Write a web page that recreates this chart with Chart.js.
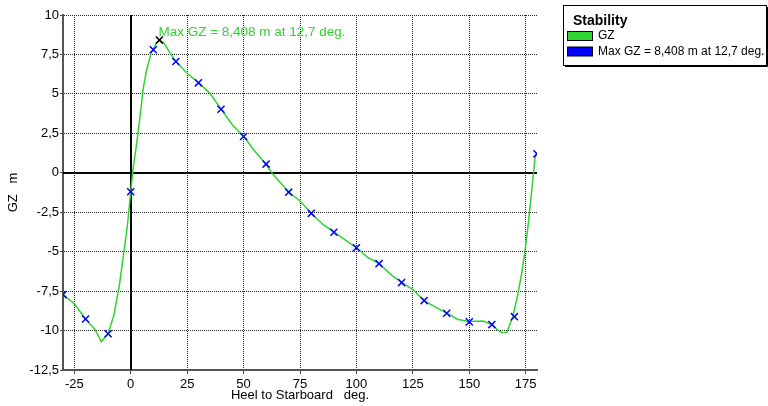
<!DOCTYPE html>
<html>
<head>
<meta charset="utf-8">
<script src="https://cdn.jsdelivr.net/npm/chart.js@4/dist/chart.umd.min.js"></script>
<style>
  html, body { margin: 0; padding: 0; background: #fff; }
  #wrap { width: 768px; height: 406px; position: relative; }
</style>
</head>
<body>
<div id="wrap"><canvas id="c"></canvas></div>
<script>
// ---- data ----
const gzDeg = [-30,-25,-20,-16,-13,-10,-7.5,-5,-3,-1.5,0,1,2.5,4,5.5,7,9,10,11.5,12.7,14.7,17.5,20,25,30,35,40,45,50,55,60,63,70,75,80,85,90,95,100,105,110,115,120,125,130,135,140,145,150,156,160,162,164.5,166.7,169.3,171.4,173.3,174.8,176.2,177.7,179.2,180];
const gzValue = [-7.72,-8.3,-9.27,-9.9,-10.7,-10.2,-9.05,-7.1,-5.0,-3.4,-1.2,0.2,1.7,3.4,5.3,6.5,7.55,7.85,8.25,8.408,8.24,7.57,7.05,6.31,5.72,5.05,4.04,3.05,2.31,1.36,0.52,-0.1,-1.22,-1.79,-2.57,-3.26,-3.75,-4.25,-4.75,-5.36,-5.74,-6.42,-6.94,-7.4,-8.1,-8.52,-8.9,-9.3,-9.43,-9.4,-9.6,-9.89,-10.14,-10.1,-9.11,-7.78,-6.31,-4.84,-3.15,-1.05,1.05,1.2];
const markerDeg = [-30,-20,-10,0,10,20,30,40,50,60,70,80,90,100,110,120,130,140,150,160,170,180];
const markerValue = [-7.72,-9.27,-10.2,-1.2,7.8,7.05,5.7,4.03,2.3,0.55,-1.23,-2.57,-3.77,-4.75,-5.76,-6.96,-8.1,-8.9,-9.45,-9.62,-9.12,1.2];
const maxDeg = 12.7;
const maxValue = 8.408;
const gzLabel = 'GZ';
const maxLabel = 'Max GZ = 8,408 m at 12,7 deg.';
const legendTitle = 'Stability';
const xTitle = 'Heel to Starboard   deg.';
const yTitle = 'GZ   m';
const xMin = -30, xMax = 180, xStep = 25;
const yMin = -12.5, yMax = 10, yStep = 2.5;

const GREEN = '#2fd42f';
const BLUE = '#0000ff';
const FONT = "'Liberation Sans', Arial, sans-serif";

const toPts = (xs, ys) => xs.map((x, i) => ({ x: x, y: ys[i] }));
const fmt = v => String(v).replace('.', ',');

// zero lines
const zeroLines = {
  id: 'zeroLines',
  beforeDatasetsDraw(chart) {
    const { ctx, chartArea: a, scales: { x, y } } = chart;
    ctx.save();
    ctx.strokeStyle = '#000';
    ctx.lineWidth = 2;
    ctx.beginPath();
    const px = Math.round(x.getPixelForValue(0));
    const py = Math.round(y.getPixelForValue(0));
    ctx.moveTo(px, a.top); ctx.lineTo(px, a.bottom);
    ctx.moveTo(a.left, py); ctx.lineTo(a.right, py);
    ctx.stroke();
    ctx.restore();
  }
};

// max annotation
const maxNote = {
  id: 'maxNote',
  afterDatasetsDraw(chart) {
    const { ctx, scales: { x, y } } = chart;
    ctx.save();
    ctx.font = '13.5px ' + FONT;
    ctx.fillStyle = GREEN;
    ctx.textAlign = 'left';
    ctx.textBaseline = 'middle';
    ctx.fillText(maxLabel, x.getPixelForValue(maxDeg) - 1, y.getPixelForValue(maxValue) - 8);
    ctx.restore();
  }
};

// boxed legend
const boxLegend = {
  id: 'boxLegend',
  afterDraw(chart) {
    const { ctx } = chart;
    const L = 563, T = 5, W = 203, H = 60;
    ctx.save();
    ctx.fillStyle = '#fff';
    ctx.fillRect(L, T, W, H);
    ctx.strokeStyle = '#000';
    ctx.lineWidth = 1;
    ctx.strokeRect(L + 0.5, T + 0.5, W, H);
    ctx.beginPath();
    ctx.moveTo(L + W + 1.5, T + 2); ctx.lineTo(L + W + 1.5, T + H + 1.5); ctx.lineTo(L + 2, T + H + 1.5);
    ctx.stroke();
    ctx.fillStyle = '#000';
    ctx.textBaseline = 'middle';
    ctx.textAlign = 'left';
    ctx.font = 'bold 14px ' + FONT;
    ctx.fillText(legendTitle, 573, 21);
    const items = [[chart.data.datasets[0].label, GREEN, 36], [chart.data.datasets[1].label, BLUE, 51.5]];
    ctx.font = '12px ' + FONT;
    items.forEach(([t, c, yy]) => {
      ctx.fillStyle = c;
      ctx.fillRect(567, yy - 4.5, 25, 9);
      ctx.strokeStyle = '#000';
      ctx.strokeRect(567.5, yy - 4.5, 25, 9);
      ctx.fillStyle = '#000';
      ctx.fillText(t, 598, yy);
    });
    ctx.restore();
  }
};

new Chart(document.getElementById('c'), {
  type: 'scatter',
  data: {
    datasets: [
      {
        label: gzLabel,
        data: toPts(gzDeg, gzValue),
        showLine: true,
        borderColor: GREEN,
        borderWidth: 1.5,
        pointRadius: 0,
        fill: false,
        tension: 0,
        order: 3
      },
      {
        label: maxLabel,
        data: toPts(markerDeg, markerValue),
        showLine: false,
        pointStyle: 'crossRot',
        pointRadius: 5,
        borderColor: BLUE,
        backgroundColor: BLUE,
        pointBorderWidth: 1.5,
        order: 2
      },
      {
        label: 'max',
        data: [{ x: maxDeg, y: maxValue }],
        showLine: false,
        pointStyle: 'crossRot',
        pointRadius: 5,
        borderColor: '#000',
        backgroundColor: '#000',
        pointBorderWidth: 1.5,
        order: 1
      }
    ]
  },
  options: {
    responsive: true,
    maintainAspectRatio: false,
    animation: false,
    events: [],
    layout: { padding: { top: 15, right: 231, left: 0, bottom: 0 } },
    plugins: { legend: { display: false }, tooltip: { enabled: false } },
    scales: {
      x: {
        type: 'linear',
        min: xMin, max: xMax,
        afterFit: s => { s.height = 36; },
        ticks: { stepSize: xStep, includeBounds: false, autoSkip: false, color: '#000', font: { family: FONT, size: 13 }, padding: 3, maxRotation: 0, callback: v => fmt(v) },
        grid: { color: '#222', lineWidth: 1, tickLength: 4, tickColor: '#444', drawTicks: true },
        border: { display: true, color: '#555', width: 2, dash: [1, 1] },
        title: { display: true, text: xTitle, color: '#000', font: { family: FONT, size: 13 }, padding: { top: 0, bottom: 3 } }
      },
      y: {
        type: 'linear',
        min: yMin, max: yMax,
        afterFit: s => { s.width = 63; },
        ticks: { stepSize: yStep, autoSkip: false, color: '#000', font: { family: FONT, size: 13 }, padding: 1, callback: v => fmt(v) },
        grid: { color: '#222', lineWidth: 1, tickLength: 3, tickColor: '#444', drawTicks: true },
        border: { display: true, color: '#555', width: 2, dash: [1, 1] },
        title: { display: true, text: yTitle, color: '#000', font: { family: FONT, size: 13 }, padding: { top: 6, bottom: 0 } }
      }
    }
  },
  plugins: [zeroLines, maxNote, boxLegend]
});
</script>
</body>
</html>
